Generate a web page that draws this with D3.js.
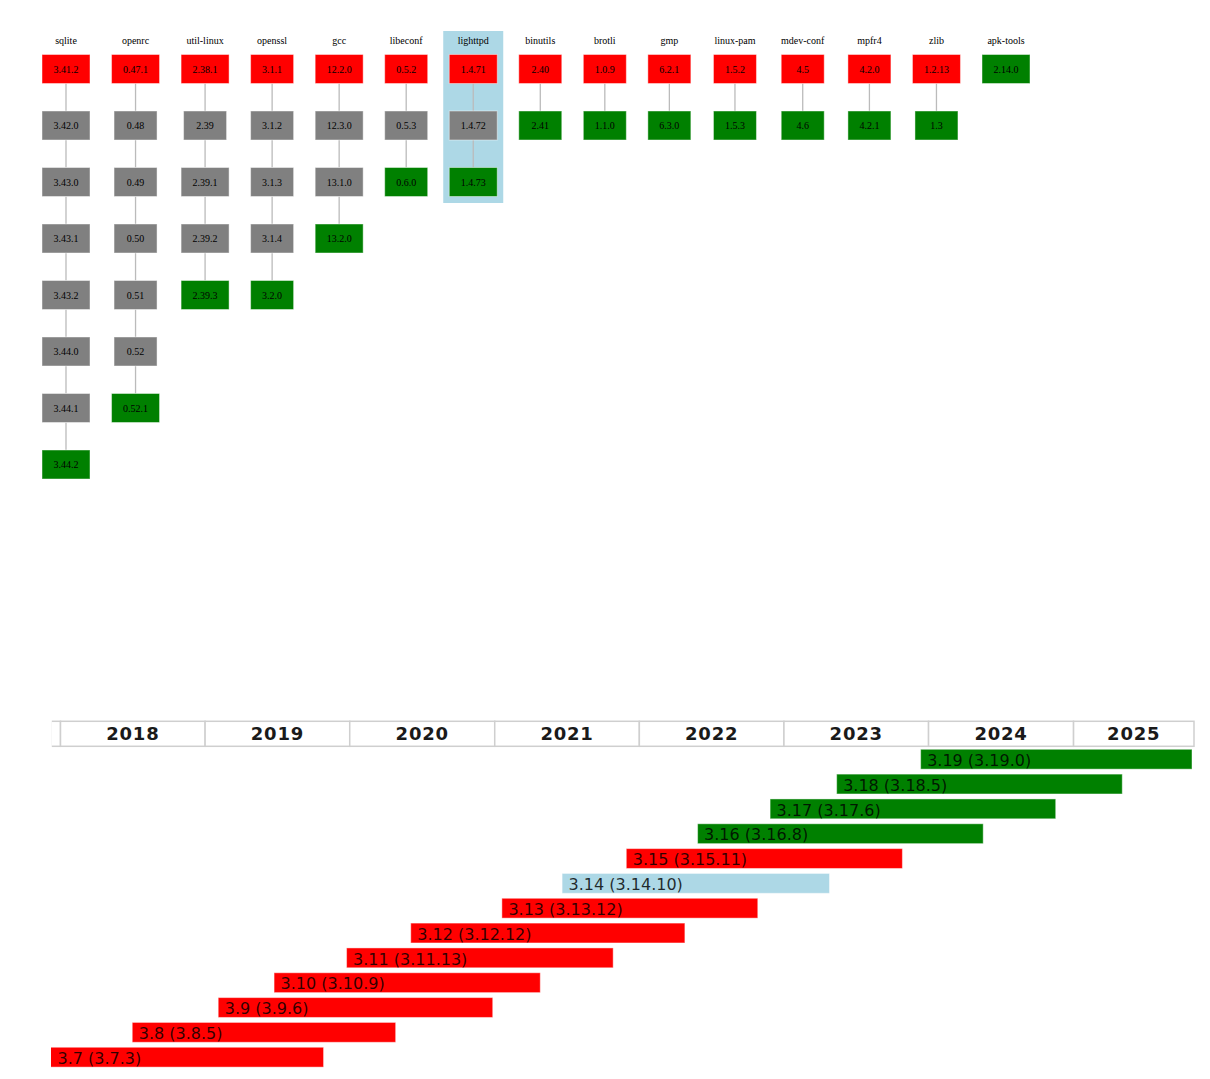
<!DOCTYPE html>
<html>
<head>
<meta charset="utf-8">
<script src="https://cdn.jsdelivr.net/npm/d3@7"></script>
<style>
  body { margin: 0; background: #fff; }
  svg { display: block; }
</style>
</head>
<body>
<svg id="chart" width="1210" height="1079"></svg>
<script>
// packages and the version chain each one went through
const packages = ['sqlite', 'openrc', 'util-linux', 'openssl', 'gcc', 'libeconf', 'lighttpd',
  'binutils', 'brotli', 'gmp', 'linux-pam', 'mdev-conf', 'mpfr4', 'zlib', 'apk-tools'];
const versions = [
  ['3.41.2', '3.42.0', '3.43.0', '3.43.1', '3.43.2', '3.44.0', '3.44.1', '3.44.2'],
  ['0.47.1', '0.48', '0.49', '0.50', '0.51', '0.52', '0.52.1'],
  ['2.38.1', '2.39', '2.39.1', '2.39.2', '2.39.3'],
  ['3.1.1', '3.1.2', '3.1.3', '3.1.4', '3.2.0'],
  ['12.2.0', '12.3.0', '13.1.0', '13.2.0'],
  ['0.5.2', '0.5.3', '0.6.0'],
  ['1.4.71', '1.4.72', '1.4.73'],
  ['2.40', '2.41'],
  ['1.0.9', '1.1.0'],
  ['6.2.1', '6.3.0'],
  ['1.5.2', '1.5.3'],
  ['4.5', '4.6'],
  ['4.2.0', '4.2.1'],
  ['1.2.13', '1.3'],
  ['2.14.0']
];
const selectedPackage = 'lighttpd';

// alpine releases
const releaseNames = ['3.7', '3.8', '3.9', '3.10', '3.11', '3.12', '3.13', '3.14', '3.15', '3.16', '3.17', '3.18', '3.19'];
const releaseLatest = ['3.7.3', '3.8.5', '3.9.6', '3.10.9', '3.11.13', '3.12.12', '3.13.12', '3.14.10',
  '3.15.11', '3.16.8', '3.17.6', '3.18.5', '3.19.0'];
const releaseStart = ['2017-11-30', '2018-06-26', '2019-01-29', '2019-06-19', '2019-12-19', '2020-05-29',
  '2021-01-14', '2021-06-15', '2021-11-24', '2022-05-23', '2022-11-22', '2023-05-09', '2023-12-07'];
const releaseEol = ['2019-11-01', '2020-05-01', '2021-01-01', '2021-05-01', '2021-11-01', '2022-05-01',
  '2022-11-01', '2023-05-01', '2023-11-01', '2024-05-23', '2024-11-22', '2025-05-09', '2025-11-01'];
const selectedRelease = '3.14';
const today = '2024-01-15';
const timeDomain = ['2017-12-08', '2025-11-01'];

const svg = d3.select('#chart');
const parse = d3.utcParse('%Y-%m-%d');

// ---------- top: package version chains ----------
const serif = '"Liberation Serif", "Times New Roman", serif';
const measure = svg.append('text').style('font-family', serif).style('font-size', '10px');
const textW = s => { measure.text(s); return measure.node().getComputedTextLength(); };

const boxW = s => Math.max(43, textW(s) + 23);
const boxWidths = versions.map(vs => vs.map(boxW));
const colWidths = packages.map((p, i) => Math.max(textW(p) + 4, d3.max(boxWidths[i])));
measure.remove();

// spread columns over the same span as the graph layout
const left = 42, right = 1030;
const gap = (right - left - d3.sum(colWidths)) / (packages.length - 1);
let acc = left;
const colCenter = {};
packages.forEach((p, i) => {
  colCenter[p] = acc + colWidths[i] / 2;
  acc += colWidths[i] + gap;
});

const maxRows = d3.max(versions, v => v.length);
const rowY = d3.scaleLinear().domain([0, maxRows - 1]).range([69, 464.5]);
const boxH = 29;

const colorFor = (v, i) => {
  if (i === v.length - 1) return '#008000';
  if (i === 0) return '#ff0000';
  return '#808080';
};

const grid = svg.append('g');

// highlight behind selected package
const selIdx = packages.indexOf(selectedPackage);
const selW = d3.max(boxWidths[selIdx]);
grid.append('rect')
  .attr('x', colCenter[selectedPackage] - selW / 2 - 6)
  .attr('y', 31)
  .attr('width', selW + 12)
  .attr('height', rowY(versions[selIdx].length - 1) + boxH / 2 + 6.5 - 31)
  .attr('fill', '#add8e6');

packages.forEach((p, pi) => {
  const cx = colCenter[p];
  const col = grid.append('g');
  const vs = versions[pi];

  col.append('text')
    .attr('x', cx)
    .attr('y', 43.5)
    .attr('text-anchor', 'middle')
    .style('font-family', serif)
    .style('font-size', '10px')
    .text(p);

  // edges
  col.selectAll('line')
    .data(d3.pairs(d3.range(vs.length)))
    .enter()
    .append('line')
    .attr('x1', cx).attr('x2', cx)
    .attr('y1', d => rowY(d[0]) + boxH / 2)
    .attr('y2', d => rowY(d[1]) - boxH / 2)
    .attr('stroke', '#bbb')
    .attr('stroke-width', 1.3);

  const node = col.selectAll('g.node')
    .data(vs)
    .enter()
    .append('g');

  node.append('rect')
    .attr('x', (d, i) => cx - boxWidths[pi][i] / 2)
    .attr('y', (d, i) => rowY(i) - boxH / 2)
    .attr('width', (d, i) => boxWidths[pi][i])
    .attr('height', boxH)
    .attr('fill', (d, i) => colorFor(vs, i))
    .attr('stroke', 'rgba(255,255,255,0.45)')
    .attr('stroke-width', 1);

  node.append('text')
    .attr('x', cx)
    .attr('y', (d, i) => rowY(i) + 3.5)
    .attr('text-anchor', 'middle')
    .style('font-family', serif)
    .style('font-size', '10px')
    .style('fill', '#000')
    .text(d => d);
});

// ---------- bottom: release timeline ----------
const x0 = 51, x1 = 1194;
const x = d3.scaleUtc().domain(timeDomain.map(parse)).range([x0, x1]);

const rows = releaseNames.slice().reverse();
const y = d3.scaleBand().domain(rows).range([746.8, 1069.6]).paddingInner(0.2).paddingOuter(0.1);

const timeline = svg.append('g');
const defs = svg.append('defs');
defs.append('clipPath').attr('id', 'clip')
  .append('rect').attr('x', x0).attr('y', 700).attr('width', x1 - x0 + 1).attr('height', 400);
defs.append('clipPath').attr('id', 'clip-head')
  .append('rect').attr('x', x0 + 0.8).attr('y', 700).attr('width', x1 - x0 + 1).attr('height', 60);

// year header
const headTop = 721.3, headH = 25;
const years = d3.utcYear.range(d3.utcYear.floor(x.domain()[0]), x.domain()[1]);
const cells = years.map(d => {
  const a = Math.max(x(d), x0), b = Math.min(x(d3.utcYear.offset(d, 1)), x1);
  return {year: d.getUTCFullYear(), a, b};
});

const head = timeline.append('g').attr('clip-path', 'url(#clip-head)');
head.selectAll('rect')
  .data(cells)
  .enter()
  .append('rect')
  .attr('x', d => d.a)
  .attr('y', headTop)
  .attr('width', d => d.b - d.a)
  .attr('height', headH)
  .attr('fill', '#fff')
  .attr('stroke', '#cfcfcf')
  .attr('stroke-width', 1.5);

head.selectAll('text')
  .data(cells.filter(d => d.b - d.a > 60))
  .enter()
  .append('text')
  .attr('x', d => (d.a + d.b) / 2)
  .attr('y', headTop + headH / 2)
  .attr('dy', '0.36em')
  .attr('text-anchor', 'middle')
  .style('font-family', '"DejaVu Sans", sans-serif')
  .style('font-weight', 'bold')
  .style('font-size', '18px')
  .style('letter-spacing', '0.8px')
  .style('fill', '#1a1a1a')
  .text(d => d.year);

const releases = releaseNames.map((r, i) => ({
  name: r,
  latest: releaseLatest[i],
  start: parse(releaseStart[i]),
  eol: parse(releaseEol[i])
}));

const barColor = d => {
  if (d.name === selectedRelease) return '#add8e6';
  return d.eol < parse(today) ? '#ff0000' : '#008000';
};

const bars = timeline.append('g').attr('clip-path', 'url(#clip)')
  .selectAll('g')
  .data(releases)
  .enter()
  .append('g');

bars.append('rect')
  .attr('x', d => x(d.start) + 2)
  .attr('y', d => y(d.name))
  .attr('width', d => x(d.eol) - x(d.start) - 4)
  .attr('height', y.bandwidth())
  .attr('fill', barColor)
  .attr('stroke', 'rgba(255,255,255,0.45)')
  .attr('stroke-width', 1);

bars.append('text')
  .attr('x', d => Math.max(x(d.start) + 2, x0) + 6.5)
  .attr('y', d => y(d.name) + y.bandwidth() / 2)
  .attr('dy', '0.42em')
  .style('font-family', '"DejaVu Sans", sans-serif')
  .style('font-size', '16px')
  .style('fill', '#000')
  .style('fill-opacity', 0.82)
  .text(d => `${d.name} (${d.latest})`);
</script>
</body>
</html>
